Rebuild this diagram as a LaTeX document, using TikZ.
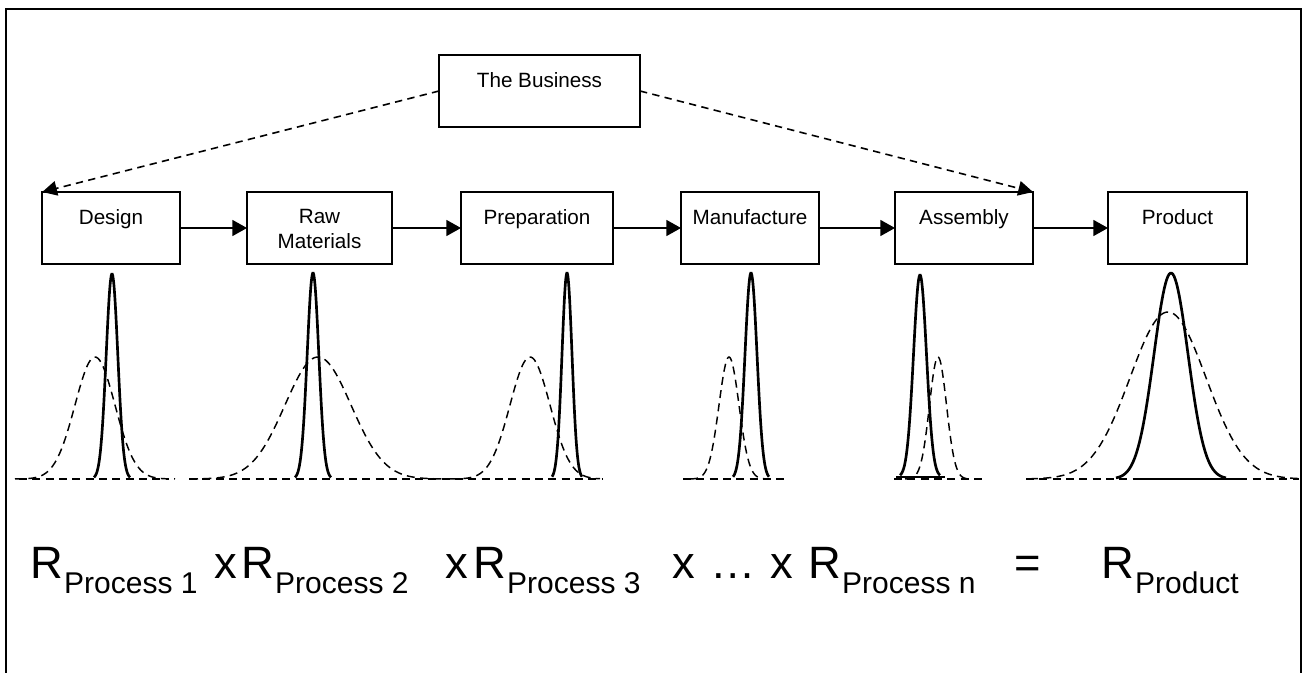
\documentclass[tikz,border=0pt]{standalone}
\usepackage{fontspec}
\setmainfont{Liberation Sans}
\usetikzlibrary{arrows.meta}
\begin{document}
\begin{tikzpicture}[x=0.75pt,y=-0.75pt,
  pbox/.style={draw, line width=1.3pt, minimum height=54pt, inner sep=0pt, outer sep=0pt},
  lab/.style={anchor=north, inner sep=0pt, yshift=-13pt, align=center, font=\fontsize{15.5}{18.75}\selectfont},
  flow/.style={line width=1.2pt, -{Triangle[length=11pt,width=12pt]}},
  biz/.style={line width=1.2pt, dash pattern=on 5.5pt off 4pt, -{Triangle[length=11pt,width=11pt]}},
  solidcurve/.style={line width=2pt},
  dashcurve/.style={line width=1.1pt, dash pattern=on 6pt off 4pt},
  baseline/.style={line width=1.1pt, dash pattern=on 6pt off 4pt},
  bigR/.style={anchor=base west, inner sep=0pt, font=\fontsize{34}{38}\selectfont},
  subR/.style={anchor=base west, inner sep=0pt, xshift=0.5pt, yshift=-11.25pt, font=\fontsize{22.5}{26}\selectfont},
  frame/.style={line width=1.5pt}
]
\useasboundingbox (0,0) rectangle (1306,673);

% outer frame (open at the bottom)
\draw[frame] (6,673) -- (6,9) -- (1301,9) -- (1301,673);

% boxes
\node[pbox, minimum width=150.75pt, label={[lab]north:The Business}] (business) at (539.5,91) {};
\node[pbox, minimum width=103.1pt, label={[lab]north:Design}] (design) at (111,228) {};
\node[pbox, minimum width=108.75pt, label={[lab]north:Raw\\Materials}] (raw) at (319.5,228) {};
\node[pbox, minimum width=114pt, label={[lab]north:Preparation}] (prep) at (537,228) {};
\node[pbox, minimum width=103.5pt, label={[lab]north:Manufacture}] (manu) at (750,228) {};
\node[pbox, minimum width=103.5pt, label={[lab]north:Assembly}] (assembly) at (964,228) {};
\node[pbox, minimum width=104.25pt, label={[lab]north:Product}] (product) at (1177.5,228) {};

% connectors
\draw[flow] (design) -- (raw);
\draw[flow] (raw) -- (prep);
\draw[flow] (prep) -- (manu);
\draw[flow] (manu) -- (assembly);
\draw[flow] (assembly) -- (product);
\draw[biz] (business.west) -- (design.north west);
\draw[biz] (business.east) -- (assembly.north east);

% distributions: baseline y0 = 479
% Design
\draw[baseline] (19,479) -- (169,479);
\draw[dashcurve] plot[domain=15:175, samples=90] (\x,{479-122*exp(-0.5*((\x-95)/20)^2)});
\draw[solidcurve] plot[domain=94:130, samples=70] (\x,{479-205*exp(-0.5*((\x-112)/5.8)^2)});
% Raw materials
\draw[baseline] (189,479) -- (415,479);
\draw[dashcurve] plot[domain=190:446, samples=110] (\x,{479-122*exp(-0.5*((\x-318)/33)^2)});
\draw[solidcurve] plot[domain=295:331, samples=70] (\x,{479-206*exp(-0.5*((\x-313)/5.8)^2)});
% Preparation
\draw[baseline] (415,479) -- (602,479);
\draw[dashcurve] plot[domain=450:600, samples=90] (\x,{479-122*exp(-0.5*((\x-530)/20)^2)});
\draw[solidcurve] plot[domain=552:582, samples=70] (\x,{479-206*exp(-0.5*((\x-567)/5)^2)});
% Manufacture
\draw[baseline] (683,479) -- (787,479);
\draw[dashcurve] plot[domain=690:770, samples=80] (\x,{479-122*exp(-0.5*((\x-729)/10)^2)});
\draw[solidcurve] plot[domain=733:769, samples=70] (\x,{479-206*exp(-0.5*((\x-751)/6)^2)});
% Assembly
\draw[baseline] (894,479) -- (983,479);
\draw[line width=1.1pt] (896,477) -- (945,477);
\draw[dashcurve] plot[domain=905:971, samples=80] (\x,{479-122*exp(-0.5*((\x-938)/8.5)^2)});
\draw[solidcurve] plot[domain=900:940, samples=70] (\x,{477-202*exp(-0.5*((\x-920)/6.5)^2)});
% Product
\draw[baseline] (1026,479) -- (1299,479);
\draw[line width=1.1pt] (1135,479) -- (1244,479);
\draw[dashcurve] plot[domain=1030:1299, samples=120] (\x,{479-167*exp(-0.5*((\x-1168)/38)^2)});
\draw[solidcurve] plot[domain=1116:1226, samples=90] (\x,{479-206*exp(-0.5*((\x-1171)/17)^2)});

% formula
\node[bigR] (r1) at (30,578) {R};
\node[subR] (s1) at (r1.base east) {Process 1};
\node[bigR] (x1) at (214,578) {x};
\node[bigR] (r2) at (241,578) {R};
\node[subR] (s2) at (r2.base east) {Process 2};
\node[bigR] (x2) at (445,578) {x};
\node[bigR] (r3) at (473,578) {R};
\node[subR] (s3) at (r3.base east) {Process 3};
\node[bigR] (x3) at (672,578) {x};
\node[bigR] (dots) at (710,578) {…};
\node[bigR] (x4) at (770,578) {x};
\node[bigR] (rn) at (808,578) {R};
\node[subR] (sn) at (rn.base east) {Process n};
\node[bigR] (eq) at (1014,578) {=};
\node[bigR] (rp) at (1101,578) {R};
\node[subR] (sp) at (rp.base east) {Product};
\end{tikzpicture}
\end{document}
